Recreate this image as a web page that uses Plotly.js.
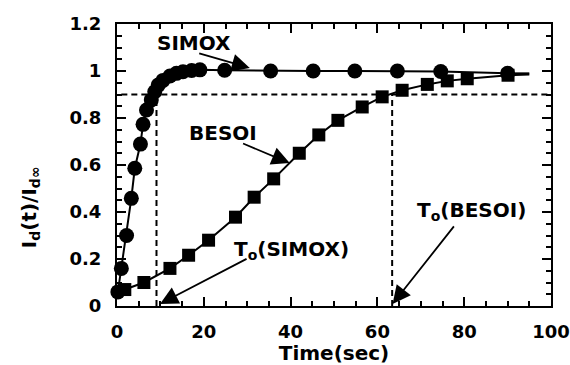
<!DOCTYPE html>
<html>
<head>
<meta charset="utf-8">
<script src="https://cdn.plot.ly/plotly-3.0.1.min.js"></script>
<style>body{margin:0;background:#fff}#chart{width:570px;height:365px}</style>
</head>
<body>
<div id="chart"></div>
<script>
// SIMOX data (time in sec, normalized drain current)
var simoxT = [0.2, 1.0, 2.2, 3.3, 4.1, 5.4, 6.0, 6.8, 7.9, 8.7, 9.5, 10.6, 12.2, 13.7, 15.2, 17.2, 19.1, 24.8, 35.4, 45.2, 54.8, 64.6, 74.6, 90.0];
var simoxY = [0.06, 0.16, 0.30, 0.458, 0.586, 0.689, 0.773, 0.834, 0.877, 0.912, 0.94, 0.96, 0.979, 0.99, 0.997, 1.002, 1.005, 1.003, 1.0, 1.0, 1.0, 1.0, 0.998, 0.99];
var simoxTailT = [90.0, 95.0];
var simoxTailY = [0.99, 0.99];
// BESOI data
var besoiT = [1.8, 6.2, 12.2, 16.5, 21.1, 27.3, 31.6, 36.1, 42.0, 46.5, 50.9, 56.5, 61.1, 65.7, 71.5, 76.1, 80.7, 90.1];
var besoiY = [0.07, 0.10, 0.16, 0.216, 0.28, 0.378, 0.463, 0.541, 0.65, 0.728, 0.79, 0.847, 0.89, 0.918, 0.943, 0.958, 0.967, 0.982];
var besoiTailT = [90.1, 95.0];
var besoiTailY = [0.982, 0.985];
// reference levels
var level90 = 0.9;
var toSimox = 9.1;
var toBesoi = 63.4;
// tick labels
var xTicks = [0, 20, 40, 60, 80, 100];
var yTicks = [0, 0.2, 0.4, 0.6, 0.8, 1, 1.2];
var yTickText = ['0', '0.2', '0.4', '0.6', '0.8', '1', '1.2'];

var FONT = 'DejaVu Sans, Arial, sans-serif';
var dashStyle = {color: 'black', width: 2, dash: '6px,4px'};

var traces = [
  {x: [1, 100], y: [level90, level90], mode: 'lines', line: dashStyle, hoverinfo: 'skip'},
  {x: [toSimox, toSimox], y: [0, level90], mode: 'lines', line: dashStyle, hoverinfo: 'skip'},
  {x: [toBesoi, toBesoi], y: [0, level90], mode: 'lines', line: dashStyle, hoverinfo: 'skip'},
  {x: simoxTailT, y: simoxTailY, mode: 'lines', line: {color: 'black', width: 2}},
  {x: besoiTailT, y: besoiTailY, mode: 'lines', line: {color: 'black', width: 2}},
  {x: besoiT, y: besoiY, mode: 'lines+markers', cliponaxis: false,
   line: {color: 'black', width: 2},
   marker: {symbol: 'square', size: 13, color: 'black'}},
  {x: simoxT, y: simoxY, mode: 'lines+markers', cliponaxis: false,
   line: {color: 'black', width: 2},
   marker: {symbol: 'circle', size: 15, color: 'black'}}
];

function arrow(hx, hy, tx, ty) {
  return {x: hx, y: hy, ax: tx, ay: ty, xref: 'x', yref: 'y', axref: 'x', ayref: 'y',
          text: '', showarrow: true, arrowhead: 2, arrowsize: 2, arrowwidth: 1.8, arrowcolor: 'black'};
}
function label(x, y, t) {
  return {x: x, y: y, xref: 'x', yref: 'y', text: t, showarrow: false,
          font: {family: FONT, size: 20, color: 'black', weight: 'bold'}, xanchor: 'center', yanchor: 'middle'};
}

var layout = {
  width: 570, height: 365,
  margin: {l: 117, r: 19, t: 24, b: 59},
  paper_bgcolor: 'white', plot_bgcolor: 'white',
  showlegend: false,
  font: {family: FONT, color: 'black'},
  xaxis: {
    range: [0, 100], tickvals: xTicks, ticks: 'inside', ticklen: 9, tickwidth: 2, tickcolor: 'black',
    showline: true, linecolor: 'black', linewidth: 2, mirror: 'allticks',
    showgrid: false, zeroline: false, ticklabelstandoff: 8,
    tickfont: {family: FONT, size: 18, color: 'black', weight: 'bold'},
    minor: {dtick: 5, tick0: 0, ticks: 'inside', ticklen: 5, tickwidth: 2, tickcolor: 'black', showgrid: false},
    title: {text: 'Time(sec)', font: {family: FONT, size: 20, color: 'black', weight: 'bold'}, standoff: 0}
  },
  yaxis: {
    range: [0, 1.2], tickvals: yTicks, ticktext: yTickText, ticks: 'inside', ticklen: 9, tickwidth: 2, tickcolor: 'black',
    showline: true, linecolor: 'black', linewidth: 2, mirror: 'allticks',
    showgrid: false, zeroline: false, ticklabelstandoff: 10,
    tickfont: {family: FONT, size: 18, color: 'black', weight: 'bold'},
    minor: {dtick: 0.05, tick0: 0, ticks: 'inside', ticklen: 5, tickwidth: 2, tickcolor: 'black', showgrid: false}
  },
  annotations: [
    {xref: 'paper', yref: 'paper', x: -0.2, y: 0.351, text: 'I<sub>d</sub>(t)/I<sub>d∞</sub>',
     textangle: -90, showarrow: false, xanchor: 'center', yanchor: 'middle',
     font: {family: FONT, size: 20, color: 'black', weight: 'bold'}},
    label(17.7, 1.12, 'SIMOX'),
    arrow(30.6, 1.013, 18.6, 1.077),
    label(24.4, 0.736, 'BESOI'),
    arrow(39.8, 0.608, 28.7, 0.694),
    label(40.3, 0.24, 'T<sub>o</sub>(SIMOX)'),
    arrow(9.9, 0.009, 30.2, 0.204),
    label(81.6, 0.405, 'T<sub>o</sub>(BESOI)'),
    arrow(63.5, 0.009, 77.9, 0.345)
  ]
};

Plotly.newPlot('chart', traces, layout, {displayModeBar: false, staticPlot: true});
</script>
</body>
</html>
